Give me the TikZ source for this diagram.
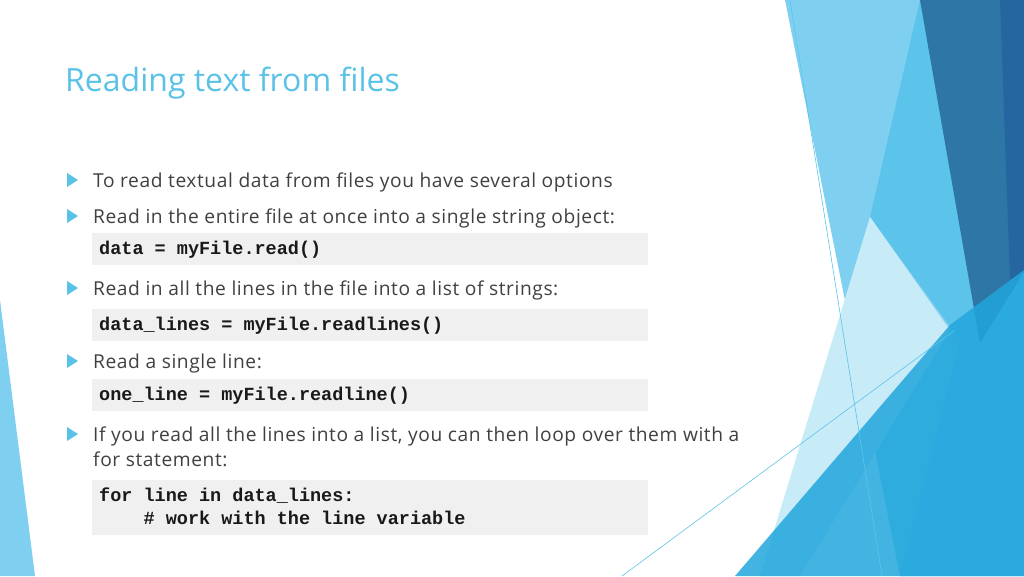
\documentclass[tikz,border=0pt]{standalone}
\usepackage{fontspec}
\setmainfont{Open Sans}
\newfontfamily\bodyfont[LetterSpace=3]{Open Sans}
\newfontfamily\codefont{Liberation Mono}
\definecolor{lt}{HTML}{7FD0F0}
\definecolor{pale}{HTML}{C8EBF8}
\definecolor{mid}{HTML}{5CC3EA}
\definecolor{dk}{HTML}{2E76A6}
\definecolor{dk2}{HTML}{2566A0}
\definecolor{br}{HTML}{22A6DC}
\definecolor{ttl}{HTML}{5BC2E7}
\begin{document}
\begin{tikzpicture}[x=1pt,y=-1pt,
  txt/.style={anchor=base west,inner sep=0,text=black!75,font=\bodyfont\fontsize{19.2}{23}\selectfont},
  code/.style={anchor=base west,inner sep=0,text=black!90,font=\codefont\bfseries\fontsize{18.5}{23}\selectfont},
  bul/.style={fill=ttl},
  cbox/.style={fill=black!6}]
\useasboundingbox (0,0) rectangle (1024,576);
% decorations
\fill[lt] (0,300) -- (35,576) -- (0,576) -- cycle;
\fill[lt] (785,0) -- (1024,0) -- (1024,576) -- (900,576) -- cycle;
\fill[mid] (870,217) -- (920,0) -- (1024,0) -- (1024,576) -- (900,576) -- (960,340) -- cycle;
\fill[pale] (870,217) -- (950,330) -- (800,576) -- (760,576) -- cycle;
\fill[dk] (920,0) -- (1024,0) -- (1024,272) -- (980,343) -- cycle;
\fill[dk2] (1000,0) -- (1024,0) -- (1024,272) -- (1010,280) -- cycle;
\fill[br,opacity=0.85] (735,576) -- (950,325) -- (1024,270) -- (1024,576) -- cycle;
\draw[mid,line width=0.6] (790,0) -- (882,576);
\draw[mid,line width=0.6] (622,576) -- (955,330);
% title
\node[anchor=base west,inner sep=0,text=ttl,font=\fontsize{32}{40}\selectfont] (title) at (65,91) {Reading text from files};
% code boxes
\fill[cbox] (92,233) rectangle (648,265);
\fill[cbox] (92,309) rectangle (648,341);
\fill[cbox] (92,379) rectangle (648,411);
\fill[cbox] (92,480) rectangle (648,535);
% bullets
\foreach \y in {180,216,288,361,434}
  \fill[bul] (67,\y-7) -- (78,\y) -- (67,\y+7) -- cycle;
\node[txt] (t1) at (93,187) {To read textual data from files you have several options};
\node[txt] (t2) at (93,223) {Read in the entire file at once into a single string object:};
\node[code] (c1) at (99,254) {data = myFile.read()};
\node[txt] (t3) at (93,295) {Read in all the lines in the file into a list of strings:};
\node[code] (c2) at (99,330) {data\_lines = myFile.readlines()};
\node[txt] (t4) at (93,368) {Read a single line:};
\node[code] (c3) at (99,400) {one\_line = myFile.readline()};
\node[txt] (t5) at (93,441) {If you read all the lines into a list, you can then loop over them with a};
\node[txt] (t6) at (93,466) {for statement:};
\node[code] (c4) at (99,501) {for line in data\_lines:};
\node[code] (c5) at (99,524) {\ \ \ \ \# work with the line variable};
\end{tikzpicture}
\end{document}
